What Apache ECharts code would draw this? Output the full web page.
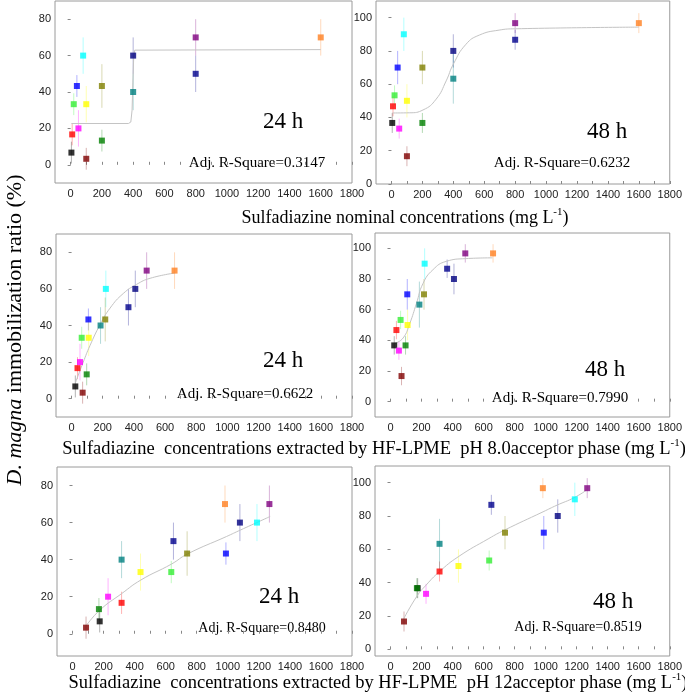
<!DOCTYPE html>
<html><head><meta charset="utf-8">
<script src="https://cdn.jsdelivr.net/npm/echarts@6/dist/echarts.min.js"></script>
<style>html,body{margin:0;padding:0;background:#fff}#c{width:685px;height:695px}</style>
</head><body><div id="c"></div>
<script>
// point order: one colour per test solution
const pointColors = ['#000000','#ff0000','#33ee33','#0000ff','#ff00ff','#00ffff','#ffff00','#800000','#808000','#008000','#000080','#008080','#800080','#00008c','#ff8020'];
const nominalConc = [5,10,20,40,50,80,100,100,200,200,400,400,800,800,1600];
const ph8Conc     = [24,38,65,108,54,220,110,71,216,97,409,186,482,365,661];
const ph12Conc    = [175,316,636,988,229,1188,438,87,738,170,1078,316,1268,650,982];
const imm24 = [6.7,16.7,33.3,43.3,20,60,33.3,3.3,43.3,13.3,60,40,70,50,70];
const err24 = [6,6,6,6,10,10,10,6,12,6,10,10,10,10,10];
const imm48 = [36.7,46.7,53.3,70,33.3,90,50,16.7,70,36.7,80,63.3,96.7,86.7,96.7];
const err48 = [6,6,6,10,6,10,10,6,10,6,10,15,6,6,6];
// fitted curves
const fit24Nominal = [[5,22.7],[370,22.7],[385,23.5],[393,30],[398,45],[403,58],[410,63],[420,63.3],[1600,63.3]];
const fit48Nominal = [[5,42.7],[118,42.8],[204,44.5],[289,51],[354,62],[400,72],[482,84],[568,89.5],[696,92.5],[803,93.3],[1600,94.3]];
const fit24Ph8 = [[26,9],[75,20],[118,29],[183,40.5],[247,49.5],[332,57.5],[418,62.5],[504,65.8],[665,68.7]];
const fit48Ph8 = [[28,38],[81,41.5],[124,51],[167,64],[209,77],[273,86],[359,91.5],[487,93.3],[657,93.8]];
const fit24Ph12 = [[87,4.2],[175,12.7],[317,21.7],[440,29],[637,37.6],[741,43.1],[992,52.5],[1082,56],[1273,63.3]];
const fit48Ph12 = [[86,18.5],[171,32],[229,38.5],[314,46.5],[436,55.5],[634,66.5],[734,71.5],[983,82.5],[1073,86.5],[1184,91],[1263,95.5]];
const xTickValues = [0,100,200,300,400,500,600,700,800,900,1000,1100,1200,1300,1400,1500,1600,1700,1800];
const xLabelValues = [0,200,400,600,800,1000,1200,1400,1600,1800];
const yLabels80 = [0,20,40,60,80];
const yLabels100 = [0,20,40,60,80,100];
const timeLabels = ['24 h','48 h','24 h','48 h','24 h','48 h'];
const r2Labels = ['Adj. R-Square=0.3147','Adj. R-Square=0.6232','Adj. R-Square=0.6622','Adj. R-Square=0.7990','Adj. R-Square=0.8480','Adj. R-Square=0.8519'];

const panels = [
  {grid:{left:55,top:1,width:297,height:182}, xs:nominalConc, ys:imm24, es:err24, fit:fit24Nominal, smooth:false, ymin:-10, ymax:90, yl:yLabels80, tx:283, ty:122, rx:257, ry:163, rs:15},
  {grid:{left:376,top:1,width:296,height:183}, xs:nominalConc, ys:imm48, es:err48, fit:fit48Nominal, smooth:true, ymin:0, ymax:110, yl:yLabels100, tx:607, ty:132, rx:562, ry:163, rs:15},
  {grid:{left:56,top:234,width:296,height:183}, xs:ph8Conc, ys:imm24, es:err24, fit:fit24Ph8, smooth:true, ymin:-10, ymax:90, yl:yLabels80, tx:283, ty:361, rx:245, ry:394, rs:15},
  {grid:{left:375,top:233,width:297,height:184}, xs:ph8Conc, ys:imm48, es:err48, fit:fit48Ph8, smooth:true, ymin:-10, ymax:110, yl:yLabels100, tx:605, ty:370, rx:560, ry:398, rs:15},
  {grid:{left:57,top:467,width:295,height:189}, xs:ph12Conc, ys:imm24, es:err24, fit:fit24Ph12, smooth:true, ymin:-12, ymax:90, yl:yLabels80, tx:279, ty:597, rx:262, ry:628, rs:14},
  {grid:{left:375,top:466,width:297,height:190}, xs:ph12Conc, ys:imm48, es:err48, fit:fit48Ph12, smooth:true, ymin:-4, ymax:110, yl:yLabels100, tx:613, ty:602, rx:578, ry:627, rs:14}
];

const SERIF = '"Liberation Serif","Times New Roman",serif';
const SANS = '"Liberation Sans",Arial,sans-serif';
const option = {animation:false, backgroundColor:'#fff', grid:[], xAxis:[], yAxis:[], series:[], graphic:[]};

panels.forEach((p,i)=>{
  option.grid.push(Object.assign({show:true, borderColor:'#9a9a9a', borderWidth:1, backgroundColor:'transparent'}, p.grid));
  option.xAxis.push({type:'value', gridIndex:i, min:-100, max:1800, splitLine:{show:false},
    axisLine:{show:false}, axisTick:{show:true, inside:true, length:3, lineStyle:{color:'#888'}, customValues:xTickValues},
    axisLabel:{customValues:xLabelValues, formatter:v=>String(v), color:'#222', fontFamily:SANS, fontSize:11, margin:5}});
  option.yAxis.push({type:'value', gridIndex:i, min:p.ymin, max:p.ymax, splitLine:{show:false},
    axisLine:{show:false}, axisTick:{show:true, length:3, lineStyle:{color:'#888'}, customValues:p.yl},
    axisLabel:{customValues:p.yl, formatter:v=>String(v), color:'#222', fontFamily:SANS, fontSize:11, margin:4}});
  const pts = p.xs.map((x,k)=>[x, p.ys[k], p.es[k], k]);
  option.series.push({type:'custom', xAxisIndex:i, yAxisIndex:i, data:pts, z:1,
    renderItem:(params, api)=>{
      const x = api.value(0), y = api.value(1), e = api.value(2), k = api.value(3);
      const a = api.coord([x, y - e]), b = api.coord([x, y + e]);
      return {type:'line', shape:{x1:a[0], y1:a[1], x2:b[0], y2:b[1]},
        style:{stroke:pointColors[k], lineWidth:1, opacity:0.3}};
    }});
  option.series.push({type:'line', xAxisIndex:i, yAxisIndex:i, data:p.fit, smooth:p.smooth, showSymbol:false, z:2,
    lineStyle:{color:'#c4c4c4', width:1}});
  option.series.push({type:'scatter', xAxisIndex:i, yAxisIndex:i, symbol:'rect', symbolSize:6, z:3,
    data:pts.map(d=>({value:[d[0],d[1]], itemStyle:{color:pointColors[d[3]]}}))});
  option.graphic.push({type:'text', x:p.tx, y:p.ty, style:{text:timeLabels[i], font:'23px '+SERIF, fill:'#000', textAlign:'center', textVerticalAlign:'middle'}});
  option.graphic.push({type:'text', x:p.rx, y:p.ry, style:{text:r2Labels[i], font:p.rs+'px '+SERIF, fill:'#000', textAlign:'center', textVerticalAlign:'middle'}});
});

const supRich = {sup:{fontSize:11, fontFamily:SERIF, verticalAlign:'top', lineHeight:14, fill:'#000'}};
option.graphic.push({type:'text', x:405, y:218, style:{text:'Sulfadiazine nominal concentrations (mg L{sup|-1})', fontSize:18, fontFamily:SERIF, fill:'#000', lineHeight:22, textAlign:'center', textVerticalAlign:'middle', rich:supRich}});
option.graphic.push({type:'text', x:374, y:449, style:{text:'Sulfadiazine  concentrations extracted by HF-LPME  pH 8.0acceptor phase (mg L{sup|-1})', fontSize:18.5, fontFamily:SERIF, fill:'#000', lineHeight:22, textAlign:'center', textVerticalAlign:'middle', rich:supRich}});
option.graphic.push({type:'text', x:378, y:683, style:{text:'Sulfadiazine  concentrations extracted by HF-LPME  pH 12acceptor phase (mg L{sup|-1})', fontSize:18.5, fontFamily:SERIF, fill:'#000', lineHeight:22, textAlign:'center', textVerticalAlign:'middle', rich:supRich}});
option.graphic.push({type:'text', x:15, y:330, rotation:Math.PI/2, style:{text:'{it|D. magna} immobilization ratio (%)', fontSize:22, fontFamily:SERIF, fill:'#000', textAlign:'center', textVerticalAlign:'middle', rich:{it:{fontStyle:'italic', fontSize:22, fontFamily:SERIF, fill:'#000'}}}});

const chart = echarts.init(document.getElementById('c'), null, {renderer:'canvas'});
chart.setOption(option);
</script></body></html>
